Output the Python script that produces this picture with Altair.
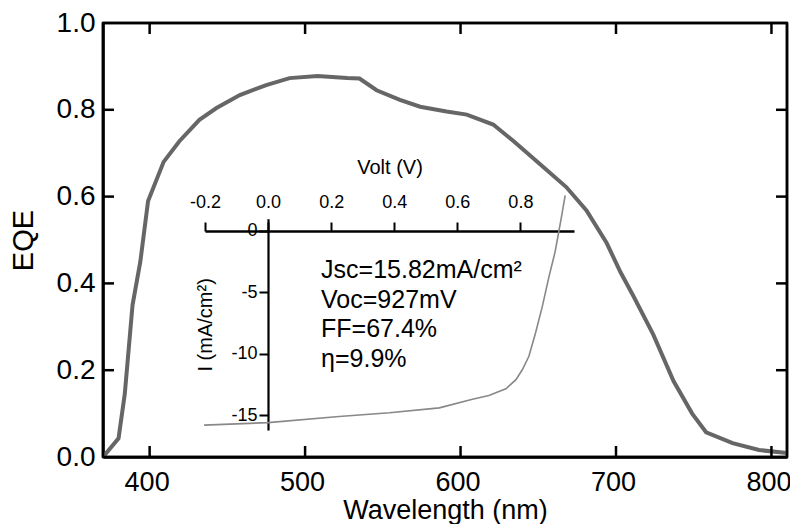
import altair as alt
import pandas as pd

# ---- data ----
wavelength = [370, 380, 384, 389, 394, 399, 409, 419, 432, 443, 458, 475, 490, 508, 527, 535,
              546, 561, 574, 591, 604, 621, 634, 651, 668, 681, 694, 703, 711, 724, 737, 749,
              758, 775, 792, 810]
eqe = [0.0, 0.043, 0.145, 0.35, 0.45, 0.59, 0.68, 0.727, 0.777, 0.804, 0.834, 0.857, 0.873,
       0.878, 0.873, 0.872, 0.845, 0.823, 0.807, 0.796, 0.789, 0.766, 0.728, 0.675, 0.622,
       0.568, 0.493, 0.425, 0.372, 0.282, 0.175, 0.10, 0.057, 0.032, 0.016, 0.009]

volt = [-0.203, 0.0, 0.225, 0.385, 0.543, 0.648, 0.70, 0.754, 0.786, 0.806, 0.827, 0.848,
        0.869, 0.89, 0.91, 0.93, 0.942]
current = [-15.8, -15.6, -15.1, -14.8, -14.4, -13.7, -13.4, -12.85, -12.1, -11.3, -10.2,
           -8.3, -6.2, -3.8, -1.7, 1.1, 2.9]

wl_ticks = [400, 500, 600, 700, 800]
eqe_ticks = [0.0, 0.2, 0.4, 0.6, 0.8, 1.0]
volt_ticks = [-0.2, 0.0, 0.2, 0.4, 0.6, 0.8]
current_ticks = [0, -5, -10, -15]
stats_lines = ["Jsc=15.82mA/cm²", "Voc=927mV", "FF=67.4%", "η=9.9%"]
stats_anchor_v = [0.168]
stats_anchor_i = [-2.2]

FONT = "Liberation Sans"
W, H = 684, 434
WL_DOM = [370, 810]
EQE_DOM = [0, 1]
TICK_PX = 11

# ---- main curve plus frame/tick segments, all in the main data units ----
rows = [{"wl": w, "eqe": e, "kind": "eqe", "seg": "curve"} for w, e in zip(wavelength, eqe)]
dx = TICK_PX * (WL_DOM[1] - WL_DOM[0]) / W
dy = TICK_PX * (EQE_DOM[1] - EQE_DOM[0]) / H
segs = [
    (WL_DOM[0], EQE_DOM[0], WL_DOM[1], EQE_DOM[0]),
    (WL_DOM[0], EQE_DOM[1], WL_DOM[1], EQE_DOM[1]),
    (WL_DOM[0], EQE_DOM[0], WL_DOM[0], EQE_DOM[1]),
    (WL_DOM[1], EQE_DOM[0], WL_DOM[1], EQE_DOM[1]),
]
for t in wl_ticks:
    segs.append((t, EQE_DOM[0], t, EQE_DOM[0] + dy))
    segs.append((t, EQE_DOM[1], t, EQE_DOM[1] - dy))
for v in eqe_ticks[1:-1]:
    segs.append((WL_DOM[0], v, WL_DOM[0] + dx, v))
    segs.append((WL_DOM[1], v, WL_DOM[1] - dx, v))
for k, (x1, y1, x2, y2) in enumerate(segs):
    rows.append({"wl": x1, "eqe": y1, "kind": "frame", "seg": f"f{k}"})
    rows.append({"wl": x2, "eqe": y2, "kind": "frame", "seg": f"f{k}"})
main_df = pd.DataFrame(rows)

jv_df = pd.DataFrame({"v": volt, "i": current})
txt_df = pd.DataFrame({"v": stats_anchor_v, "i": stats_anchor_i, "t": ["\n".join(stats_lines)]})

main_x = alt.Scale(domain=WL_DOM, nice=False, zero=False)
main_y = alt.Scale(domain=EQE_DOM, nice=False, zero=False)

# inset scales: mapped onto a sub-region of the plot area
in_x = alt.Scale(domain=[-0.2, 0.97], range=[102, 471], nice=False, zero=False)
in_y = alt.Scale(domain=[-16.2, 1.0], range=[407, 195.7], nice=False, zero=False)

main_layer = alt.Chart(main_df).mark_line().encode(
    x=alt.X("wl:Q", scale=main_x, axis=alt.Axis(
        orient="bottom", values=wl_ticks, ticks=True, tickSize=1, tickOpacity=0,
        domain=True, domainColor="black", domainWidth=2.5, grid=False,
        labelFontSize=27, labelPadding=11, labelOffset=-3, labelColor="black", labelFont=FONT,
        labelFlush=False, labelOverlap=False,
        title="Wavelength (nm)", titleFontSize=27, titleFontWeight="normal",
        titleColor="black", titleFont=FONT, titleY=40)),
    y=alt.Y("eqe:Q", scale=main_y, axis=alt.Axis(
        orient="left", values=eqe_ticks, format=".1f", ticks=True, tickSize=1, tickOpacity=0,
        domain=True, domainColor="black", domainWidth=2.5,
        grid=False, labelFontSize=28, labelPadding=7, labelColor="black", labelFont=FONT,
        labelOverlap=False,
        title="EQE", titleFontSize=29, titleFontWeight="normal", titleColor="black",
        titleFont=FONT, titleX=-65)),
    color=alt.Color("kind:N", scale=alt.Scale(domain=["eqe", "frame"], range=["#666666", "#000000"]),
                    legend=None),
    strokeWidth=alt.StrokeWidth("kind:N", scale=alt.Scale(domain=["eqe", "frame"], range=[4, 2.5]),
                                legend=None),
    detail="seg:N",
)

inset_line = alt.Chart(jv_df).mark_line(color="#888888", strokeWidth=1.6).encode(
    x=alt.X("v:Q", scale=in_x, axis=alt.Axis(
        orient="top", offset=-208, values=volt_ticks,
        labelExpr="datum.value < 0 ? '-' + format(-datum.value, '.1f') : format(datum.value, '.1f')",
        ticks=True, tickSize=9, tickWidth=2, tickColor="black", domain=True, domainWidth=2.5,
        domainColor="black", grid=False, labelFontSize=18, labelPadding=11, labelColor="black",
        labelFont=FONT, labelFlush=False, labelOverlap=False,
        title="Volt (V)", titleFontSize=20, titleFontWeight="normal", titleColor="black",
        titleFont=FONT, titleY=-54)),
    y=alt.Y("i:Q", scale=in_y, axis=alt.Axis(
        orient="left", offset=-165, values=current_ticks,
        labelExpr="datum.value < 0 ? '-' + format(-datum.value, 'd') : format(datum.value, 'd')",
        ticks=True, tickSize=9, tickWidth=2, tickColor="black", domain=True, domainWidth=2.2,
        domainColor="black", grid=False, labelFontSize=18, labelPadding=2, labelColor="black",
        labelFont=FONT, labelOverlap=False,
        title="I (mA/cm²)", titleFontSize=20, titleFontWeight="normal", titleColor="black",
        titleFont=FONT, titleX=-53)),
)

inset_text = alt.Chart(txt_df).mark_text(
    align="left", baseline="top", fontSize=25, lineHeight=29.5, lineBreak="\n",
    font=FONT, color="black"
).encode(
    x=alt.X("v:Q", scale=in_x, axis=None),
    y=alt.Y("i:Q", scale=in_y, axis=None),
    text="t:N",
)

chart = alt.layer(main_layer, inset_line, inset_text).resolve_scale(
    x="independent", y="independent"
).properties(
    width=W, height=H,
    autosize=alt.AutoSizeParams(type="none"),
    padding={"left": 95, "top": 15, "right": 3, "bottom": 67},
).configure_view(stroke="black", strokeWidth=2.5)

chart.save("out.html", embed_options={"renderer": "svg", "actions": False})
